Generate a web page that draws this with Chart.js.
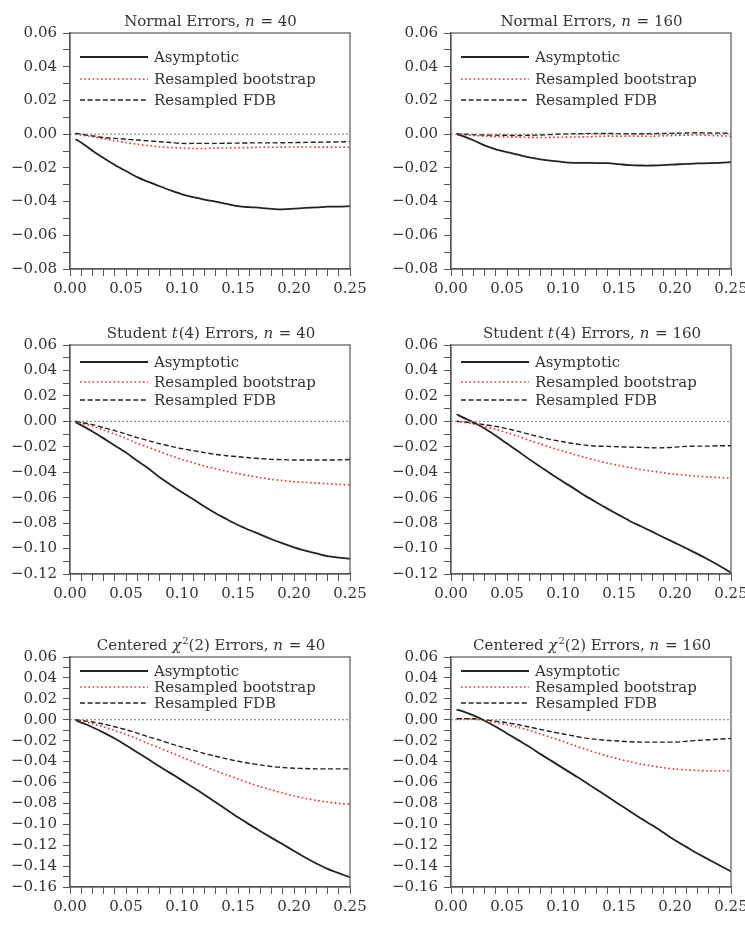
<!DOCTYPE html>
<html><head><meta charset="utf-8">
<script src="https://cdn.jsdelivr.net/npm/chart.js@4/dist/chart.umd.min.js"></script>
<style>
html,body{margin:0;padding:0;background:#fff;overflow:hidden;width:745px;height:932px;position:relative;}
.p{position:absolute;}
canvas{display:block;}
</style></head><body>
<div class="p" id="w1"><canvas id="c1"></canvas></div>
<div class="p" id="w2"><canvas id="c2"></canvas></div>
<div class="p" id="w3"><canvas id="c3"></canvas></div>
<div class="p" id="w4"><canvas id="c4"></canvas></div>
<div class="p" id="w5"><canvas id="c5"></canvas></div>
<div class="p" id="w6"><canvas id="c6"></canvas></div>
<script>
// ---------------- DATA ----------------
const xValues = [0.005,0.01,0.02,0.03,0.04,0.05,0.06,0.07,0.08,0.09,0.10,0.11,0.12,0.13,0.14,0.15,0.16,0.17,0.18,0.19,0.20,0.21,0.22,0.23,0.24,0.25];
const xTickLabels = ['0.00','0.05','0.10','0.15','0.20','0.25'];
const seriesNames = ['Asymptotic','Resampled bootstrap','Resampled FDB'];
const zeroLineX = [0, 0.25];
const zeroLineY = [0, 0];

// Normal errors, n = 40
const normal40Asym = [-0.003,-0.005,-0.0098,-0.0142,-0.0183,-0.0219,-0.0255,-0.0283,-0.0309,-0.0334,-0.0357,-0.0374,-0.0388,-0.0400,-0.0414,-0.0427,-0.0433,-0.0437,-0.0443,-0.0446,-0.0442,-0.0437,-0.0435,-0.0430,-0.0430,-0.0427];
const normal40Boot = [0,-0.0005,-0.0015,-0.0028,-0.004,-0.005,-0.006,-0.0068,-0.0075,-0.008,-0.0082,-0.0085,-0.0085,-0.0083,-0.0082,-0.008,-0.008,-0.0078,-0.0078,-0.0077,-0.0076,-0.0076,-0.0077,-0.0077,-0.0078,-0.0078];
const normal40Fdb  = [0.0005,0,-0.001,-0.002,-0.0025,-0.003,-0.0035,-0.004,-0.0045,-0.005,-0.0055,-0.0055,-0.0055,-0.0055,-0.0054,-0.0053,-0.0052,-0.0052,-0.0052,-0.0051,-0.005,-0.0049,-0.0048,-0.0047,-0.0046,-0.0045];
// Normal errors, n = 160
const normal160Asym = [0,-0.001,-0.0036,-0.0067,-0.009,-0.0107,-0.0122,-0.0138,-0.015,-0.0158,-0.0166,-0.017,-0.017,-0.0172,-0.0172,-0.0178,-0.0184,-0.0186,-0.0186,-0.0184,-0.018,-0.0176,-0.0174,-0.0172,-0.017,-0.0166];
const normal160Boot = [0,-0.0003,-0.0008,-0.0012,-0.0015,-0.0017,-0.0018,-0.0019,-0.002,-0.0019,-0.0018,-0.0017,-0.0016,-0.0014,-0.0012,-0.0012,-0.0012,-0.0012,-0.0012,-0.001,-0.0008,-0.0006,-0.0005,-0.0008,-0.001,-0.0012];
const normal160Fdb  = [0.0002,0,-0.0003,-0.0005,-0.0006,-0.0007,-0.0008,-0.0007,-0.0005,-0.0002,0,0.0002,0.0003,0.0004,0.0004,0.0003,0.0002,0.0002,0.0003,0.0004,0.0005,0.0007,0.0008,0.0007,0.0006,0.0005];
// Student t(4) errors, n = 40
const student40Asym = [-0.0008,-0.003,-0.008,-0.0134,-0.019,-0.0246,-0.031,-0.037,-0.044,-0.050,-0.0558,-0.0613,-0.067,-0.0723,-0.077,-0.0815,-0.0854,-0.089,-0.0927,-0.096,-0.099,-0.1017,-0.1038,-0.1059,-0.1072,-0.108];
const student40Boot = [0,-0.0013,-0.0037,-0.0068,-0.010,-0.0134,-0.0173,-0.0204,-0.0238,-0.027,-0.0299,-0.0327,-0.0351,-0.0372,-0.0393,-0.0411,-0.0427,-0.0443,-0.0456,-0.0466,-0.0474,-0.048,-0.0485,-0.049,-0.0495,-0.050];
const student40Fdb  = [0,-0.0008,-0.0026,-0.005,-0.0073,-0.010,-0.0128,-0.0152,-0.0176,-0.0196,-0.0215,-0.023,-0.0246,-0.026,-0.027,-0.0278,-0.0286,-0.0293,-0.0299,-0.0301,-0.0304,-0.0304,-0.0304,-0.0304,-0.0303,-0.030];
// Student t(4) errors, n = 160
const student160Asym = [0.0056,0.0033,-0.0007,-0.0057,-0.0113,-0.0175,-0.0236,-0.0299,-0.0358,-0.0418,-0.0474,-0.0529,-0.0586,-0.0638,-0.0688,-0.0737,-0.0785,-0.0827,-0.0869,-0.0913,-0.0955,-0.0998,-0.1042,-0.1088,-0.1137,-0.119];
const student160Boot = [0,-0.0005,-0.002,-0.0042,-0.0063,-0.009,-0.0118,-0.015,-0.0179,-0.0208,-0.0234,-0.026,-0.0284,-0.0308,-0.0329,-0.0347,-0.0363,-0.0379,-0.0392,-0.0405,-0.0416,-0.0424,-0.0432,-0.0437,-0.0442,-0.0447];
const student160Fdb  = [0,-0.0003,-0.0013,-0.0026,-0.004,-0.0058,-0.0079,-0.0103,-0.0124,-0.0145,-0.016,-0.0176,-0.0187,-0.0195,-0.0197,-0.02,-0.0203,-0.0205,-0.0208,-0.0208,-0.0203,-0.0197,-0.0195,-0.0195,-0.0192,-0.0192];
// Centered chi2(2) errors, n = 40
const chisq40Asym = [-0.0005,-0.0027,-0.0072,-0.0123,-0.018,-0.0244,-0.0311,-0.0379,-0.0447,-0.0513,-0.058,-0.0648,-0.0718,-0.079,-0.0862,-0.0933,-0.1001,-0.1066,-0.113,-0.1192,-0.1255,-0.1318,-0.1375,-0.1427,-0.1468,-0.1507];
const chisq40Boot = [0,-0.0013,-0.0039,-0.0068,-0.0103,-0.0141,-0.0183,-0.0228,-0.027,-0.0314,-0.0359,-0.0404,-0.0445,-0.0487,-0.0528,-0.0567,-0.0605,-0.064,-0.0672,-0.0701,-0.073,-0.0752,-0.0771,-0.0787,-0.08,-0.081];
const chisq40Fdb  = [0,-0.0006,-0.0022,-0.0042,-0.0067,-0.0096,-0.0128,-0.0163,-0.0195,-0.023,-0.0262,-0.0291,-0.0323,-0.0349,-0.0374,-0.0397,-0.0416,-0.0432,-0.0448,-0.0457,-0.0464,-0.0467,-0.047,-0.047,-0.047,-0.047];
// Centered chi2(2) errors, n = 160
const chisq160Asym = [0.0096,0.0083,0.0041,-0.001,-0.0067,-0.0131,-0.0195,-0.0259,-0.0329,-0.0396,-0.0463,-0.053,-0.0597,-0.0667,-0.0737,-0.0808,-0.0878,-0.0948,-0.1012,-0.1082,-0.1152,-0.1216,-0.128,-0.1337,-0.1395,-0.1452];
const chisq160Boot = [0.001,0.001,0.0006,-0.0006,-0.0026,-0.0048,-0.0073,-0.0102,-0.0137,-0.0172,-0.0207,-0.0246,-0.0281,-0.0316,-0.0348,-0.0377,-0.0402,-0.0424,-0.0444,-0.046,-0.0472,-0.0479,-0.0485,-0.0488,-0.0488,-0.0488];
const chisq160Fdb  = [0.001,0.001,0.001,0,-0.0013,-0.0029,-0.0048,-0.007,-0.0093,-0.0115,-0.0137,-0.0156,-0.0176,-0.0188,-0.0198,-0.0204,-0.0211,-0.0214,-0.0214,-0.0214,-0.0214,-0.0207,-0.0198,-0.0192,-0.0185,-0.0179];

// ---------------- STYLE / LAYOUT ----------------
const FAMILY = '"DejaVu Serif", "Liberation Serif", serif';
const FS = 15;
const TEXT = '#333333';
const AXIS = '#555555';
const RED = '#e4312b';
const BLACK = '#222222';
const styles = [
  {color: BLACK, width: 1.8, dash: []},
  {color: RED, width: 1.6, dash: [1.6, 2.6]},
  {color: BLACK, width: 1.4, dash: [5, 2.6]}
];
const PLOT_W = 280, YAXIS_W = 70, TOP_PAD = 33, XAXIS_H = 40, RIGHT_PAD = 24;

const panels = [
  {id:'c1', wrap:'w1', left:70,  top:33,  h:236, yMin:-0.08, yMax:0.06, rows:[24,46,67],
   title:[['Normal Errors, ',0],['n',1],[' = 40',0]], series:[normal40Asym, normal40Boot, normal40Fdb]},
  {id:'c2', wrap:'w2', left:451, top:33,  h:236, yMin:-0.08, yMax:0.06, rows:[24,46,67],
   title:[['Normal Errors, ',0],['n',1],[' = 160',0]], series:[normal160Asym, normal160Boot, normal160Fdb]},
  {id:'c3', wrap:'w3', left:70,  top:345, h:229, yMin:-0.12, yMax:0.06, rows:[17,37,55],
   title:[['Student ',0],['t',1],['(4) Errors, ',0],['n',1],[' = 40',0]], series:[student40Asym, student40Boot, student40Fdb]},
  {id:'c4', wrap:'w4', left:451, top:345, h:229, yMin:-0.12, yMax:0.06, rows:[17,37,55],
   title:[['Student ',0],['t',1],['(4) Errors, ',0],['n',1],[' = 160',0]], series:[student160Asym, student160Boot, student160Fdb]},
  {id:'c5', wrap:'w5', left:70,  top:657, h:230, yMin:-0.16, yMax:0.06, rows:[14,30,46],
   title:[['Centered ',0],['\u03C7',1],['2',2],['(2) Errors, ',0],['n',1],[' = 40',0]], series:[chisq40Asym, chisq40Boot, chisq40Fdb]},
  {id:'c6', wrap:'w6', left:451, top:657, h:230, yMin:-0.16, yMax:0.06, rows:[14,30,46],
   title:[['Centered ',0],['\u03C7',1],['2',2],['(2) Errors, ',0],['n',1],[' = 160',0]], series:[chisq160Asym, chisq160Boot, chisq160Fdb]}
];

function fmtY(v){
  const k = Math.round(v*100);
  if (k === 0) return '0.00';
  return (k < 0 ? '\u2212' : '') + (Math.abs(k)/100).toFixed(2);
}
function segFont(kind){
  if (kind === 1) return 'italic ' + FS + 'px ' + FAMILY;
  if (kind === 2) return '10px ' + FAMILY;
  return FS + 'px ' + FAMILY;
}

const decor = {
  id: 'decor',
  afterDraw(chart, args, opts) {
    const ctx = chart.ctx, a = chart.chartArea;
    ctx.save();
    // frame
    ctx.strokeStyle = AXIS; ctx.lineWidth = 1.2; ctx.setLineDash([]);
    ctx.strokeRect(a.left, a.top, a.right - a.left, a.bottom - a.top);
    // title
    const segs = opts.title;
    let total = 0;
    segs.forEach(s => { ctx.font = segFont(s[1]); total += ctx.measureText(s[0]).width; });
    let x = (a.left + a.right)/2 - total/2;
    const ty = a.top - 7;
    ctx.fillStyle = TEXT; ctx.textBaseline = 'alphabetic'; ctx.textAlign = 'left';
    segs.forEach(s => {
      ctx.font = segFont(s[1]);
      ctx.fillText(s[0], x, s[1] === 2 ? ty - 6 : ty);
      x += ctx.measureText(s[0]).width + (s[1] === 1 ? 1 : 0);
    });
    // legend
    ctx.textBaseline = 'middle';
    ctx.font = FS + 'px ' + FAMILY;
    seriesNames.forEach((name, i) => {
      const y = a.top + opts.rows[i];
      const st = styles[i];
      ctx.beginPath();
      ctx.strokeStyle = st.color; ctx.lineWidth = st.width; ctx.setLineDash(st.dash);
      ctx.moveTo(a.left + 10, y); ctx.lineTo(a.left + 78, y); ctx.stroke();
      ctx.setLineDash([]);
      ctx.fillStyle = TEXT;
      ctx.fillText(name, a.left + 84, y + 1);
    });
    ctx.restore();
  }
};

panels.forEach(p => {
  const wrap = document.getElementById(p.wrap);
  wrap.style.left = (p.left - YAXIS_W) + 'px';
  wrap.style.top = (p.top - TOP_PAD) + 'px';
  const cv = document.getElementById(p.id);
  const W = YAXIS_W + PLOT_W + RIGHT_PAD, H = TOP_PAD + p.h + XAXIS_H;
  cv.width = W; cv.height = H; cv.style.width = W + 'px'; cv.style.height = H + 'px';

  const datasets = [{
    data: zeroLineX.map((x, i) => ({x, y: zeroLineY[i]})),
    borderColor: '#777777', borderWidth: 1, borderDash: [2, 2], pointRadius: 0, tension: 0
  }];
  [2, 1, 0].forEach(i => {
    datasets.push({
      label: seriesNames[i],
      data: xValues.map((x, j) => ({x, y: p.series[i][j]})),
      borderColor: styles[i].color, borderWidth: styles[i].width, borderDash: styles[i].dash,
      pointRadius: 0, tension: 0.3, fill: false
    });
  });

  new Chart(cv, {
    type: 'line',
    data: { datasets },
    options: {
      responsive: false, animation: false, devicePixelRatio: 1,
      layout: { padding: { top: TOP_PAD, right: RIGHT_PAD, left: 0, bottom: 0 } },
      plugins: { legend: { display: false }, tooltip: { enabled: false }, title: { display: false },
                 decor: { title: p.title, rows: p.rows } },
      scales: {
        x: {
          type: 'linear', min: 0, max: 0.25,
          ticks: { stepSize: 0.01, autoSkip: false, maxRotation: 0, minRotation: 0, padding: 4,
                   color: TEXT, font: { family: FAMILY, size: FS },
                   callback: v => { const k = Math.round(v*100); return k % 5 === 0 ? xTickLabels[k/5] : ''; } },
          grid: { drawOnChartArea: false, drawTicks: true, tickLength: 7, color: AXIS, lineWidth: 1 },
          border: { display: true, color: AXIS, width: 1.2 },
          afterFit(s) { s.height = XAXIS_H; }
        },
        y: {
          type: 'linear', min: p.yMin, max: p.yMax,
          ticks: { stepSize: 0.01, autoSkip: false, padding: 6,
                   color: TEXT, font: { family: FAMILY, size: FS },
                   callback: v => { const k = Math.round(v*100); return k % 2 === 0 ? fmtY(v) : ''; } },
          grid: { drawOnChartArea: false, drawTicks: true, tickLength: 7, color: AXIS, lineWidth: 1 },
          border: { display: true, color: AXIS, width: 1.2 },
          afterFit(s) { s.width = YAXIS_W; }
        }
      }
    },
    plugins: [decor]
  });
});
</script>
</body></html>
